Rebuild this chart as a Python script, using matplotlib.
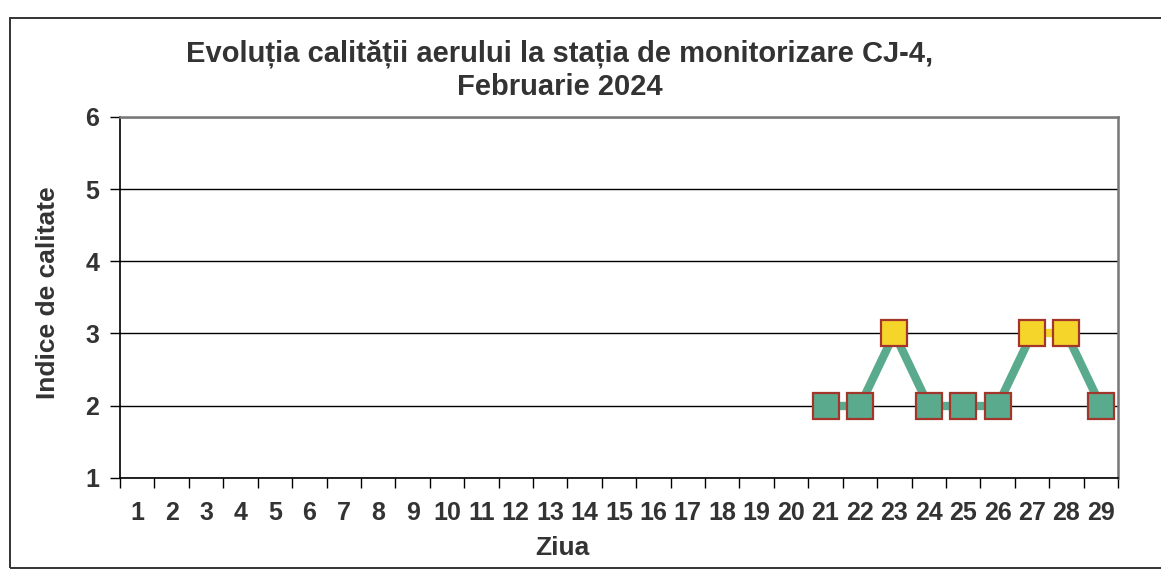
import matplotlib
matplotlib.use("Agg")
import matplotlib.pyplot as plt
from matplotlib.patches import Rectangle
import numpy as np

plt.rcParams['font.family'] = ['Liberation Sans', 'DejaVu Sans']

days = list(range(1, 30))
day_labels = [str(d) for d in days]
data_days = [21, 22, 23, 24, 25, 26, 27, 28, 29]
index_values = [2, 2, 3, 2, 2, 2, 3, 3, 2]

title = "Evoluția calității aerului la stația de monitorizare CJ-4,\nFebruarie 2024"
xlabel = "Ziua"
ylabel = "Indice de calitate"

green = "#5aab8e"
yellow = "#f6d52a"
edge = "#a3352b"
txt = "#333333"

fig = plt.figure(figsize=(11.61, 5.73), dpi=100)
fig.patches.append(Rectangle((0.009, 0.009), 1.05, 0.96, transform=fig.transFigure,
                             fill=False, edgecolor="#333333", linewidth=1.4))
ax = fig.add_axes([0.1034, 0.166, 0.8596, 0.63])

# segments
for i in range(len(data_days) - 1):
    a, b = index_values[i], index_values[i + 1]
    c = yellow if (a == 3 and b == 3) else green
    ax.plot(data_days[i:i + 2], [a, b], color=c, linewidth=6, solid_capstyle='butt', zorder=3)

for d, v in zip(data_days, index_values):
    ax.plot(d, v, marker='s', markersize=18.5, markerfacecolor=(yellow if v == 3 else green),
            markeredgecolor=edge, markeredgewidth=1.6, linestyle='none', zorder=4)

ax.set_xlim(0.5, 29.5)
ax.set_ylim(1, 6)
ax.set_yticks(range(1, 7))
ax.yaxis.grid(True, color="black", linewidth=1.0)
ax.set_axisbelow(True)

ax.set_xticks(np.arange(0.5, 30, 1.0))
ax.set_xticklabels([])
ax.set_xticks(days, minor=True)
ax.set_xticklabels(day_labels, minor=True, fontsize=18, fontweight='bold', color=txt)
ax.tick_params(axis='x', which='major', length=7, width=1.0, direction='out')
ax.tick_params(axis='x', which='minor', length=0, pad=17)
ax.tick_params(axis='y', length=7, width=1.0, direction='out', labelsize=18, pad=8,
               labelcolor=txt)
for lbl in ax.get_yticklabels():
    lbl.set_fontweight('bold')

for s in ['top', 'right']:
    ax.spines[s].set_color("#777777")
    ax.spines[s].set_linewidth(1.8)
for s in ['left', 'bottom']:
    ax.spines[s].set_color("black")
    ax.spines[s].set_linewidth(1.2)

fig.text(0.484, 0.043, xlabel, ha='center', va='center', fontsize=19, fontweight='bold', color=txt)
fig.text(0.041, 0.49, ylabel, ha='center', va='center', rotation=90, fontsize=19,
         fontweight='bold', color=txt)

fig.text(0.482, 0.878, title, ha='center', va='center', fontsize=21, fontweight='bold',
         color=txt, linespacing=1.22)

fig.savefig("out.png", dpi=100)
